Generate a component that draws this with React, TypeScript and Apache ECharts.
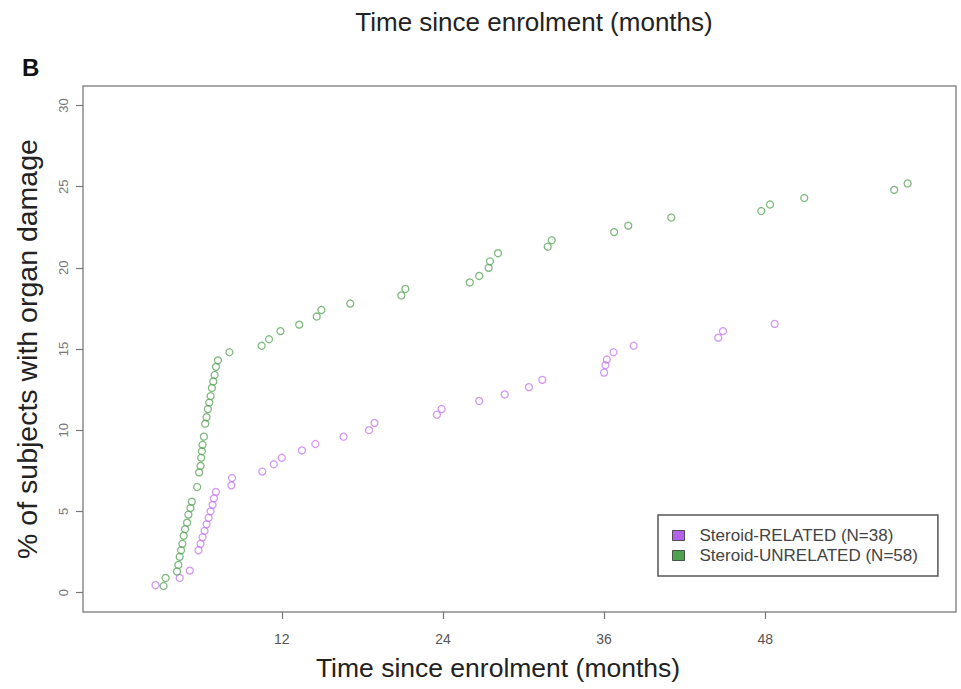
import React, { useEffect, useRef } from "react";
import * as echarts from "echarts";

const xTicks = [12, 24, 36, 48];
const yTicks = [0, 5, 10, 15, 20, 25, 30];
const seriesNames = ["Steroid-RELATED (N=38)", "Steroid-UNRELATED (N=58)"];

// Steroid-RELATED (purple)
const relatedMonths = [
  2.6, 4.4, 5.15, 5.8, 5.95, 6.1, 6.25, 6.4, 6.55, 6.7, 6.85, 6.95, 7.1, 8.25, 8.3,
  10.55, 11.4, 12.0, 13.5, 14.5, 16.6, 18.5, 18.9, 23.55, 23.9, 26.7, 28.6, 30.4, 31.4,
  36.0, 36.1, 36.2, 36.7, 38.2, 44.5, 44.85, 48.7,
];
const relatedPct = [
  0.45, 0.9, 1.35, 2.6, 3.0, 3.4, 3.8, 4.2, 4.6, 5.0, 5.4, 5.8, 6.2, 6.6, 7.05,
  7.45, 7.9, 8.3, 8.75, 9.15, 9.6, 10.0, 10.45, 10.95, 11.3, 11.8, 12.2, 12.65, 13.1,
  13.55, 14.0, 14.35, 14.8, 15.2, 15.7, 16.1, 16.55,
];

// Steroid-UNRELATED (green)
const unrelatedMonths = [
  3.2, 3.35, 4.2, 4.3, 4.4, 4.5, 4.6, 4.7, 4.8, 4.95, 5.05, 5.2, 5.3, 5.7,
  5.85, 5.95, 6.0, 6.05, 6.1, 6.2, 6.3, 6.4, 6.5, 6.6, 6.7, 6.8, 6.9, 7.0, 7.1, 7.25,
  8.1, 10.5, 11.05, 11.9, 13.3, 14.6, 14.95, 17.1, 20.9, 21.2, 26.0, 26.7, 27.4, 27.5,
  28.1, 31.8, 32.1, 36.75, 37.8, 41.0, 47.7, 48.35, 50.9, 57.6, 58.6,
];
const unrelatedPct = [
  0.4, 0.9, 1.3, 1.7, 2.2, 2.6, 3.0, 3.5, 3.9, 4.3, 4.8, 5.2, 5.6, 6.5,
  7.4, 7.8, 8.3, 8.7, 9.1, 9.6, 10.4, 10.8, 11.3, 11.7, 12.1, 12.6, 13.0, 13.4, 13.9, 14.3,
  14.8, 15.2, 15.6, 16.1, 16.5, 17.0, 17.4, 17.8, 18.3, 18.7, 19.1, 19.5, 20.0, 20.4,
  20.9, 21.3, 21.7, 22.2, 22.6, 23.1, 23.5, 23.9, 24.3, 24.8, 25.2,
];

const FONT = '"Liberation Sans", Arial, Helvetica, sans-serif';

export default function App() {
  const ref = useRef<HTMLDivElement>(null);
  useEffect(() => {
    const chart = echarts.init(ref.current!, null, { renderer: "svg" });
    const zip = (xs: number[], ys: number[]) => xs.map((x, i) => [x, ys[i]]);
    chart.setOption({
      animation: false,
      backgroundColor: "#ffffff",
      grid: {
        show: true,
        left: 83,
        top: 86,
        width: 873,
        height: 526,
        borderColor: "#8c8c8c",
        borderWidth: 1.5,
        backgroundColor: "transparent",
        containLabel: false,
      },
      xAxis: {
        type: "value",
        min: -2.8,
        max: 62.2,
        splitLine: { show: false },
        axisLine: { show: false, onZero: false },
        axisTick: {
          show: true,
          customValues: xTicks,
          length: 7,
          lineStyle: { color: "#777", width: 1.2 },
        },
        axisLabel: {
          customValues: xTicks,
          margin: 20,
          fontSize: 14,
          color: "#555",
          fontFamily: FONT,
        },
      },
      yAxis: {
        type: "value",
        min: -1.2,
        max: 31.2,
        splitLine: { show: false },
        axisLine: { show: false, onZero: false },
        axisTick: {
          show: true,
          customValues: yTicks,
          length: 7,
          lineStyle: { color: "#777", width: 1.2 },
        },
        axisLabel: {
          customValues: yTicks,
          rotate: 90,
          margin: 13,
          fontSize: 13,
          color: "#777",
          fontFamily: FONT,
        },
      },
      legend: {
        orient: "vertical",
        left: 658,
        top: 515,
        itemWidth: 12,
        itemHeight: 10,
        itemGap: 3,
        padding: [12, 20, 12, 14],
        backgroundColor: "#ffffff",
        borderColor: "#555",
        borderWidth: 1.5,
        selectedMode: false,
        textStyle: { fontSize: 17, color: "#444", fontFamily: FONT, padding: [0, 0, 0, 10] },
        data: [
          { name: seriesNames[0], icon: "rect", itemStyle: { color: "#a03ae6", borderColor: "#333", borderWidth: 1 } },
          { name: seriesNames[1], icon: "rect", itemStyle: { color: "#238b23", borderColor: "#333", borderWidth: 1 } },
        ],
      },
      series: [
        {
          name: seriesNames[0],
          type: "scatter",
          symbol: "circle",
          symbolSize: 7,
          data: zip(relatedMonths, relatedPct),
          itemStyle: { color: "rgba(0,0,0,0)", borderColor: "#c77df0", borderWidth: 1.3 },
        },
        {
          name: seriesNames[1],
          type: "scatter",
          symbol: "circle",
          symbolSize: 7,
          data: zip(unrelatedMonths, unrelatedPct),
          itemStyle: { color: "rgba(0,0,0,0)", borderColor: "#5fa85f", borderWidth: 1.3 },
        },
      ],
      graphic: [
        {
          type: "text",
          x: 534,
          y: 22,
          style: {
            text: "Time since enrolment (months)",
            font: `26px ${FONT}`,
            fill: "#222",
            textAlign: "center",
            align: "center",
            textVerticalAlign: "middle",
            verticalAlign: "middle",
          },
        },
        {
          type: "text",
          x: 22,
          y: 67,
          style: {
            text: "B",
            font: `bold 24px ${FONT}`,
            fill: "#111",
            textAlign: "left",
            align: "left",
            textVerticalAlign: "middle",
            verticalAlign: "middle",
          },
        },
        {
          type: "text",
          x: 27,
          y: 349,
          rotation: Math.PI / 2,
          style: {
            text: "% of subjects with organ damage",
            font: `28.5px ${FONT}`,
            fill: "#222",
            textAlign: "center",
            align: "center",
            textVerticalAlign: "middle",
            verticalAlign: "middle",
          },
        },
        {
          type: "text",
          x: 498,
          y: 668,
          style: {
            text: "Time since enrolment (months)",
            font: `26.5px ${FONT}`,
            fill: "#222",
            textAlign: "center",
            align: "center",
            textVerticalAlign: "middle",
            verticalAlign: "middle",
          },
        },
      ],
    });
    return () => chart.dispose();
  }, []);
  return (
    <div
      ref={ref}
      style={{ position: "fixed", left: 0, top: 0, width: 961, height: 689 }}
    />
  );
}
